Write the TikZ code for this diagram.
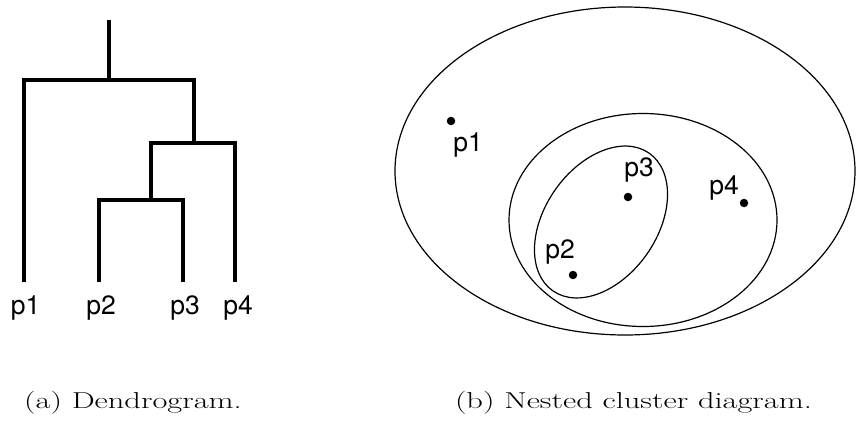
\documentclass[tikz,border=0pt]{standalone}
\usepackage{fontspec}
\newfontfamily\heros{TeX Gyre Heros}
\begin{document}
\begin{tikzpicture}[
	x=1pt, y=-1pt,
	branch/.style={ line width=3.8pt },
	ring/.style={ line width=1.2pt },
	dot/.style={ circle, fill, inner sep=0pt, minimum size=8.5pt },
	lbl/.style={ font=\heros\fontsize{26.5}{26.5}\selectfont, inner sep=0pt },
	caption/.style={ font=\fontsize{23}{23}\selectfont, inner sep=0pt }
]
\useasboundingbox (0,0) rectangle (856,423);

% dendrogram
\coordinate (l1) at (24,282);
\coordinate (l2) at (99,282);
\coordinate (l3) at (183,282);
\coordinate (l4) at (235,282);
\coordinate (c23) at (151,200);
\coordinate (c234) at (194,143);
\coordinate (c1234) at (109,80);
\coordinate (top) at (109,20);
\draw[branch] (l2) |- (c23) -| (l3);
\draw[branch] (c23) |- (c234) -| (l4);
\draw[branch] (l1) |- (c1234) -| (c234);
\draw[branch] (c1234) -- (top);
\node at (25.5,308) (t1) [lbl] {p1};
\node at (101,308) (t2) [lbl] {p2};
\node at (185,308) (t3) [lbl] {p3};
\node at (238,308) (t4) [lbl] {p4};

% nested clusters
\draw[ring] (625,171) ellipse [x radius=230pt, y radius=164pt];
\draw[ring] (643,220) ellipse [x radius=134pt, y radius=106.5pt];
\draw[ring] (601,222) ellipse [x radius=84pt, y radius=56pt, rotate=55];
\node at (451,121) (p1) [dot] {};
\node at (468,145) (p1t) [lbl] {p1};
\node at (573,275) (p2) [dot] {};
\node at (560,252) (p2t) [lbl] {p2};
\node at (628,197) (p3) [dot] {};
\node at (639,170) (p3t) [lbl] {p3};
\node at (744,203) (p4) [dot] {};
\node at (724,188) (p4t) [lbl] {p4};

\node at (133,403) (capa) [caption] {\scalebox{1.41}[1]{(a) Dendrogram.}};
\node at (633.5,403) (capb) [caption] {\scalebox{1.41}[1]{(b) Nested cluster diagram.}};

\end{tikzpicture}
\end{document}
